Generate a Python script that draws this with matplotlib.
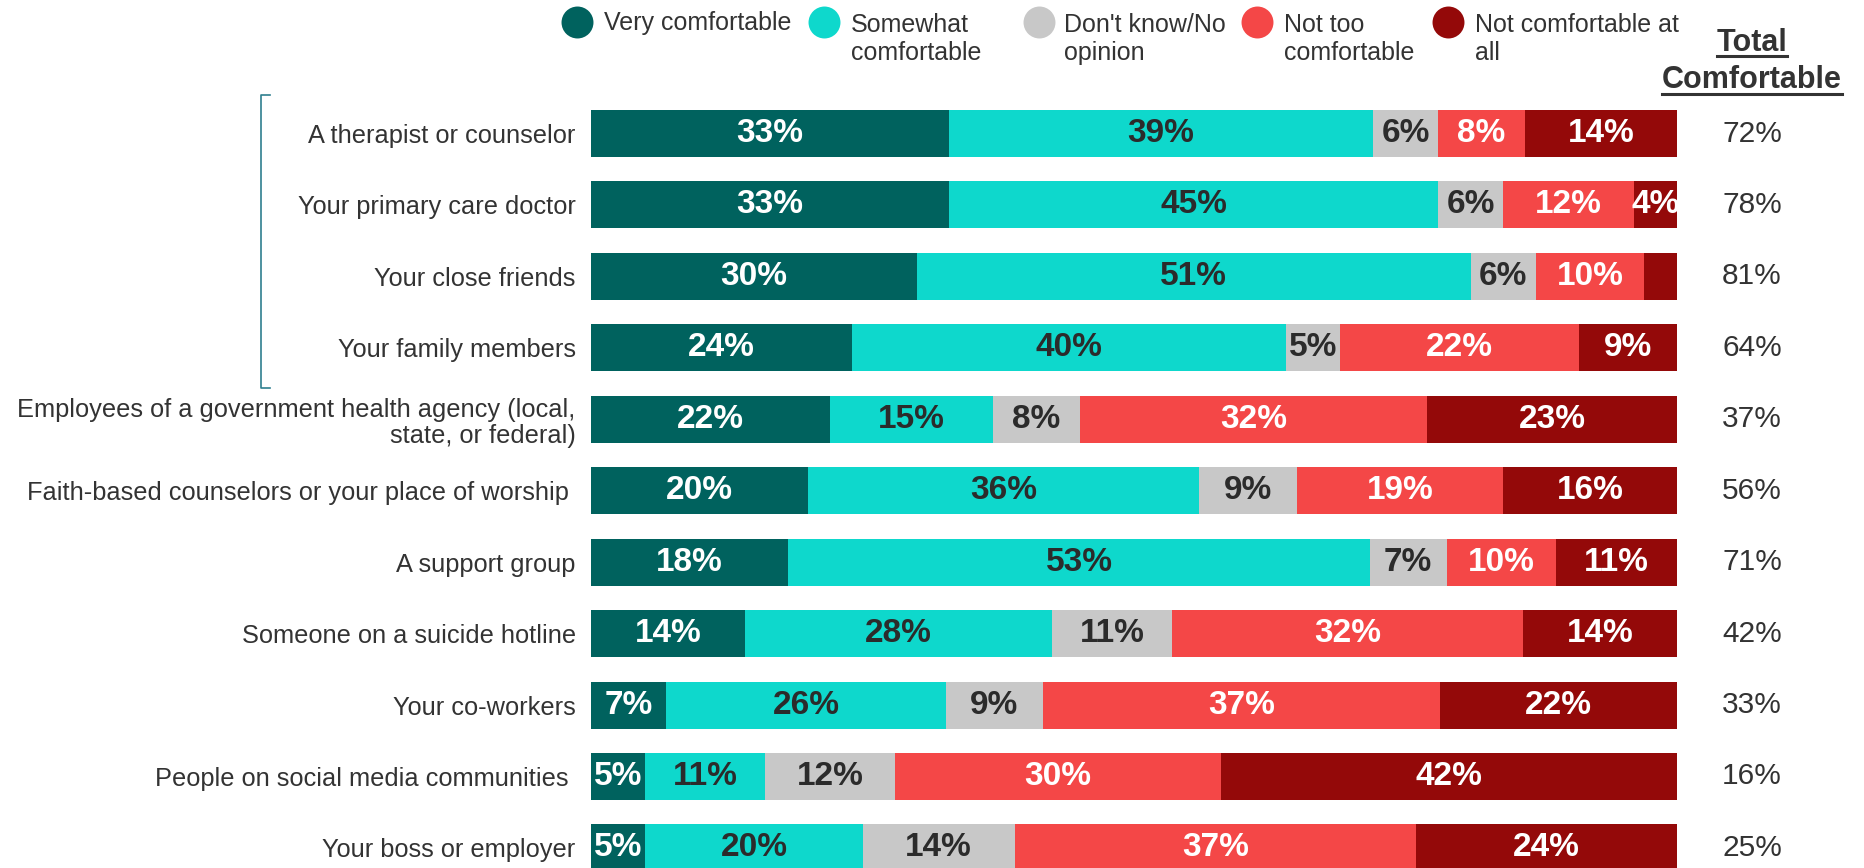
import numpy as np
import matplotlib
matplotlib.use("Agg")
import matplotlib.pyplot as plt
from matplotlib import transforms
from matplotlib.lines import Line2D

plt.rcParams['font.family'] = ['Liberation Sans', 'DejaVu Sans']

# ---- data ----
categories = [
    "A therapist or counselor",
    "Your primary care doctor",
    "Your close friends",
    "Your family members",
    "Employees of a government health agency (local,\nstate, or federal)",
    "Faith-based counselors or your place of worship ",
    "A support group",
    "Someone on a suicide hotline",
    "Your co-workers",
    "People on social media communities ",
    "Your boss or employer",
]
very_comfortable = [33, 33, 30, 24, 22, 20, 18, 14, 7, 5, 5]
somewhat_comfortable = [39, 45, 51, 40, 15, 36, 53, 28, 26, 11, 20]
dont_know = [6, 6, 6, 5, 8, 9, 7, 11, 9, 12, 14]
not_too_comfortable = [8, 12, 10, 22, 32, 19, 10, 32, 37, 30, 37]
not_comfortable_at_all = [14, 4, 3, 9, 23, 16, 11, 14, 22, 42, 24]
total_comfortable = [72, 78, 81, 64, 37, 56, 71, 42, 33, 16, 25]

series_names = ["Very comfortable", "Somewhat\ncomfortable", "Don't know/No\nopinion",
                "Not too\ncomfortable", "Not comfortable at\nall"]
series_colors = ["#00625e", "#0ed8cc", "#c8c8c8", "#f44747", "#940909"]
label_colors = ["white", "#2b2b2b", "#2b2b2b", "white", "white"]
TEXT = "#333333"

W, H = 1864, 868
fig = plt.figure(figsize=(W / 100, H / 100), dpi=100)


def fx(x):
    return x / W


def fy(y):
    return 1 - y / H


# bar area
ax = fig.add_axes([fx(591), 0, fx(1677) - fx(591), 1])
pitch = 71.44
top_center = 133.5
ax.set_ylim((H - top_center) / pitch, -top_center / pitch)
ax.set_xlim(0, 100)
for s in ax.spines.values():
    s.set_visible(False)
ax.set_xticks([])

series = [very_comfortable, somewhat_comfortable, dont_know,
          not_too_comfortable, not_comfortable_at_all]
data = np.array(series, dtype=float)
shares = data / data.sum(axis=0) * 100
y = np.arange(len(categories))
left = np.zeros(len(categories))
for vals, raw, color, lc in zip(shares, data, series_colors, label_colors):
    ax.barh(y, vals, left=left, height=0.658, color=color, linewidth=0)
    for yi, (l, v, r) in enumerate(zip(left, vals, raw)):
        if r >= 4:
            ax.text(l + v / 2, yi, f"{int(r)}%", ha="center", va="center",
                    fontsize=24, fontweight="bold", color=lc)
    left += vals

ax.set_yticks(y)
ax.set_yticklabels(categories, fontsize=18.3, color=TEXT, linespacing=1.1)
ax.tick_params(axis="y", length=0, pad=11)

# total comfortable column
blend = transforms.blended_transform_factory(fig.transFigure, ax.transData)
for yi, t in enumerate(total_comfortable):
    ax.text(fx(1752), yi, f"{t}%", transform=blend, ha="center", va="center",
            fontsize=21.5, color=TEXT)

hdr1 = fig.text(fx(1752), fy(51), "Total", ha="center", va="baseline",
                fontsize=22, fontweight="bold", color=TEXT)
hdr2 = fig.text(fx(1752), fy(88), "Comfortable", ha="center", va="baseline",
                fontsize=22, fontweight="bold", color=TEXT)

# legend
circle_x = [577, 824, 1039, 1257, 1448]
text_x = [604, 851, 1064, 1284, 1475]
for cx, tx, name, color in zip(circle_x, text_x, series_names, series_colors):
    fig.add_artist(Line2D([fx(cx)], [fy(22)], marker="o", markersize=23,
                          markerfacecolor=color, markeredgewidth=0,
                          linestyle="none", transform=fig.transFigure))
    base = 30 if "\n" not in name else 60
    fig.text(fx(tx), fy(base), name, ha="left", va="baseline",
             fontsize=18, color=TEXT, linespacing=1.2)

# bracket grouping the personal contacts
bc = "#2f7f8f"
fig.add_artist(Line2D([fx(270), fx(261), fx(261), fx(270)],
                      [fy(95), fy(95), fy(388), fy(388)],
                      color=bc, linewidth=1.2, transform=fig.transFigure))

# underline the header words
fig.canvas.draw()
r = fig.canvas.get_renderer()
for t, uy in ((hdr1, 56), (hdr2, 94)):
    bb = t.get_window_extent(renderer=r)
    fig.add_artist(Line2D([bb.x0 / W, bb.x1 / W], [fy(uy), fy(uy)],
                          color=TEXT, linewidth=2.2, transform=fig.transFigure))

fig.savefig("out.png", dpi=100)
